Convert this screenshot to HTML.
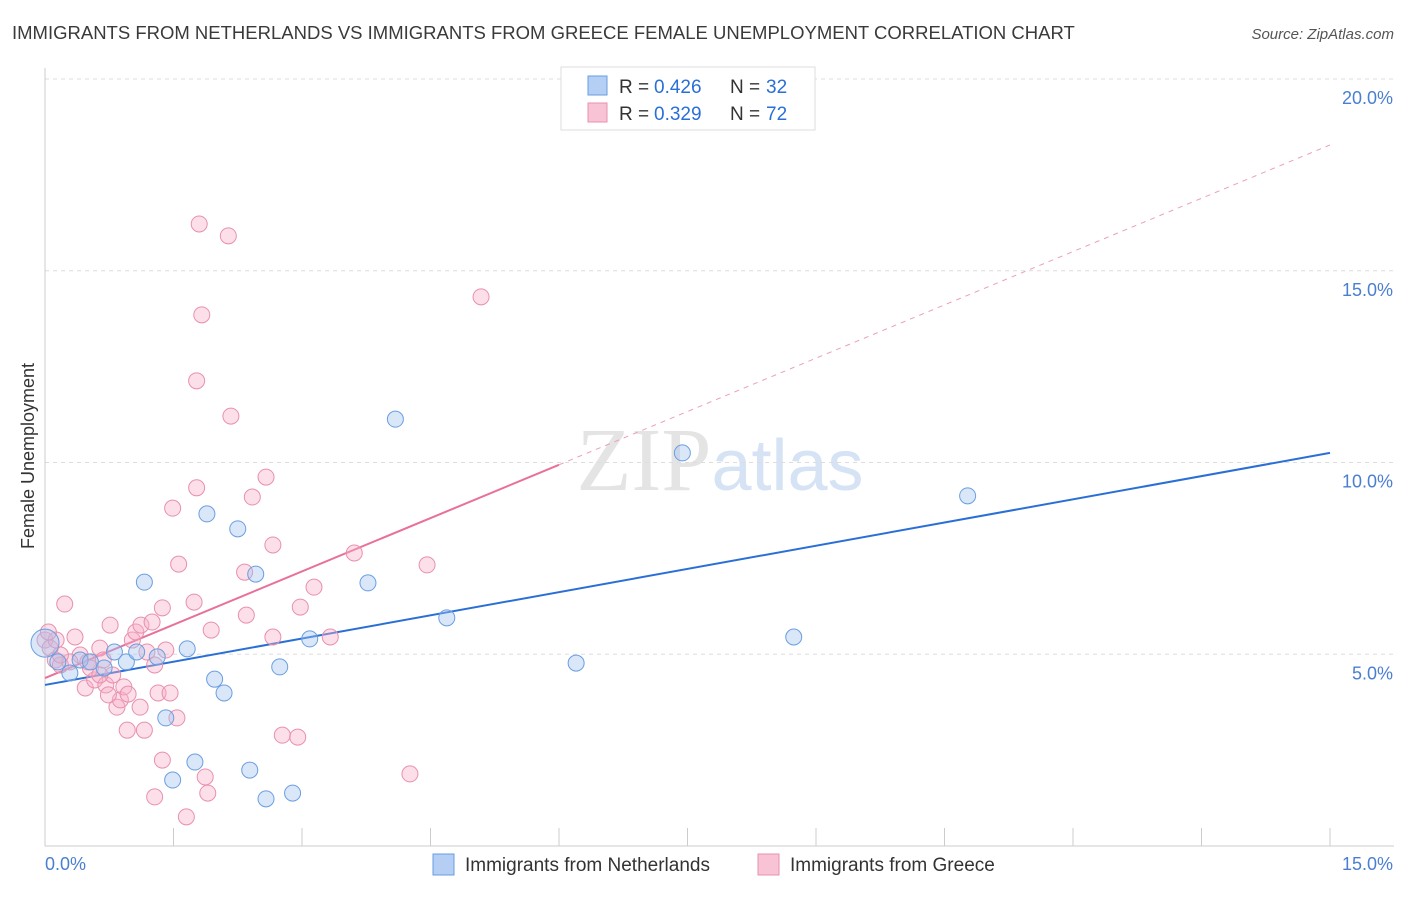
<!DOCTYPE html>
<html><head><meta charset="utf-8"><style>
body{margin:0;background:#fff;font-family:"Liberation Sans",sans-serif}
</style></head><body>
<svg id="chart" width="1406" height="892" xmlns="http://www.w3.org/2000/svg" font-family="Liberation Sans, sans-serif">
<text x="12" y="39" font-size="18.5" fill="#3a3a3a">IMMIGRANTS FROM NETHERLANDS VS IMMIGRANTS FROM GREECE FEMALE UNEMPLOYMENT CORRELATION CHART</text>
<text x="1394" y="39" font-size="15" fill="#555" text-anchor="end" font-style="italic">Source: ZipAtlas.com</text>
<text x="720" y="490" font-size="90" fill="#e4e4e4" text-anchor="middle" font-family="Liberation Serif, serif">ZIP<tspan fill="#d5e3f5" font-family="Liberation Sans, sans-serif" font-size="72">atlas</tspan></text>
<text transform="translate(34,456) rotate(-90)" font-size="18" fill="#333" text-anchor="middle">Female Unemployment</text>
<g id="grid"></g><g id="axes"></g><g id="lines"></g><g id="points"></g>
<g>
<rect x="561" y="67" width="254" height="63" fill="#fff" stroke="#ddd"/>
<rect x="588" y="76" width="19" height="19" fill="#b4cff3" stroke="#6a9ee0"/>
<text x="619" y="93" font-size="19" fill="#333">R =</text>
<text x="654" y="93" font-size="19" fill="#2a6fd6">0.426</text>
<text x="730" y="93" font-size="19" fill="#333">N =</text>
<text x="766" y="93" font-size="19" fill="#2a6fd6">32</text>
<rect x="588" y="103" width="19" height="19" fill="#f8c3d4" stroke="#e890ae"/>
<text x="619" y="120" font-size="19" fill="#333">R =</text>
<text x="654" y="120" font-size="19" fill="#2a6fd6">0.329</text>
<text x="730" y="120" font-size="19" fill="#333">N =</text>
<text x="766" y="120" font-size="19" fill="#2a6fd6">72</text>
</g>
<g>
<rect x="433" y="854" width="21" height="21" fill="#b4cff3" stroke="#6a9ee0"/>
<text x="465" y="871" font-size="19" fill="#333">Immigrants from Netherlands</text>
<rect x="758" y="854" width="21" height="21" fill="#f8c3d4" stroke="#e890ae"/>
<text x="790" y="871" font-size="19" fill="#333">Immigrants from Greece</text>
</g>
</svg>
<script>
const blueX=[0.0,0.15,0.29,0.41,0.53,0.69,0.81,0.95,1.07,1.16,1.31,1.41,1.49,1.66,1.75,1.89,1.98,2.09,2.25,2.39,2.46,2.58,2.74,2.89,3.09,3.77,4.09,4.69,6.20,7.44,8.74,10.77];
const blueY=[5.29,4.80,4.51,4.85,4.80,4.64,5.06,4.80,5.06,6.88,4.93,3.34,1.72,5.14,2.19,8.66,4.35,3.99,8.27,1.98,7.09,1.23,4.67,1.38,5.40,6.86,11.13,5.95,4.77,10.25,5.45,9.13];
const pinkX=[0.0,0.06,0.12,0.18,0.23,0.35,0.41,0.47,0.50,0.58,0.64,0.68,0.71,0.76,0.79,0.84,0.88,0.92,0.96,0.97,1.02,1.06,1.12,1.16,1.19,1.25,1.28,1.28,1.32,1.37,1.37,1.41,1.46,1.49,1.54,1.56,1.65,1.74,1.77,1.80,1.77,1.83,1.87,1.90,1.94,2.14,2.17,2.33,2.35,2.42,2.58,2.66,2.66,2.77,2.95,2.98,3.14,3.33,3.61,4.26,4.46,5.09,0.13,0.29,0.53,0.74,1.11,0.18,0.04,0.64];
const pinkY=[5.37,5.16,4.85,4.72,6.31,5.45,4.98,4.12,4.80,4.33,5.16,4.85,4.20,5.76,4.46,3.62,3.81,4.15,3.02,3.96,5.37,5.58,5.76,3.02,5.06,5.84,1.28,4.72,3.99,2.24,6.21,5.11,3.99,8.81,3.34,7.35,0.76,6.36,9.34,16.22,12.13,13.85,1.80,1.38,5.63,15.91,11.21,7.14,6.02,9.10,9.62,7.85,5.45,2.89,2.84,6.23,6.75,5.45,7.64,1.88,7.33,14.32,5.37,4.80,4.64,3.94,3.62,4.98,5.58,4.46];
const blueTrend=[4.2,10.25];
const pinkTrend=[4.38,18.28];
const yTicks=[5,10,15,20];
const yTickLabels=["5.0%","10.0%","15.0%","20.0%"];
const xTickCount=10;
const NS="http://www.w3.org/2000/svg";
const X=v=>45+v*(1285/15), Y=v=>846-v*38.35;
function mk(t,a,p){const e=document.createElementNS(NS,t);for(const k in a)e.setAttribute(k,a[k]);document.getElementById(p).appendChild(e);return e;}
yTicks.forEach((t,i)=>{
 const g=mk('line',{x1:45,x2:1394,y1:Y(t),y2:Y(t),stroke:'#ddd','stroke-dasharray':'4,4'},'grid');
 
 
 const l=mk('text',{x:1393,y:Y(t)+25,'font-size':18,fill:'#4a7fd0','text-anchor':'end'},'axes');
 l.textContent=yTickLabels[i];
 
 
});
const ax=mk('line',{x1:45,x2:45,y1:68,y2:846,stroke:'#ccc'},'axes');


const bx=mk('line',{x1:45,x2:1394,y1:846,y2:846,stroke:'#ccc'},'axes');


for(let i=0;i<=xTickCount;i++){
 const t=mk('line',{x1:X(i*1.5),x2:X(i*1.5),y1:828,y2:846,stroke:'#ccc'},'axes');
 
 
}
const x0=mk('text',{x:45,y:870,'font-size':18,fill:'#4a7fd0'},'axes');x0.textContent='0.0%';


const x1=mk('text',{x:1393,y:870,'font-size':18,fill:'#4a7fd0','text-anchor':'end'},'axes');x1.textContent='15.0%';


const pv=x=>pinkTrend[0]+(pinkTrend[1]-pinkTrend[0])*x/15;
const bl=mk('line',{x1:X(0),y1:Y(blueTrend[0]),x2:X(15),y2:Y(blueTrend[1]),stroke:'#2a6fd6','stroke-width':2},'lines');


const pl=mk('line',{x1:X(0),y1:Y(pv(0)),x2:X(6),y2:Y(pv(6)),stroke:'#e8709a','stroke-width':2},'lines');


const pd=mk('line',{x1:X(6),y1:Y(pv(6)),x2:X(15),y2:Y(pv(15)),stroke:'#eaa0b8','stroke-width':1,'stroke-dasharray':'5,5'},'lines');


pinkX.forEach((x,i)=>{
 const c=mk('circle',{cx:X(x),cy:Y(pinkY[i]),r:8,fill:'rgba(247,176,200,0.4)',stroke:'#e890ae','stroke-width':1},'points');
 
 
});
blueX.forEach((x,i)=>{
 const c=mk('circle',{cx:X(x),cy:Y(blueY[i]),r:i===0?14:8,fill:'rgba(160,195,240,0.4)',stroke:'#6a9ee0','stroke-width':1},'points');
 
 
});
</script>
</body></html>
